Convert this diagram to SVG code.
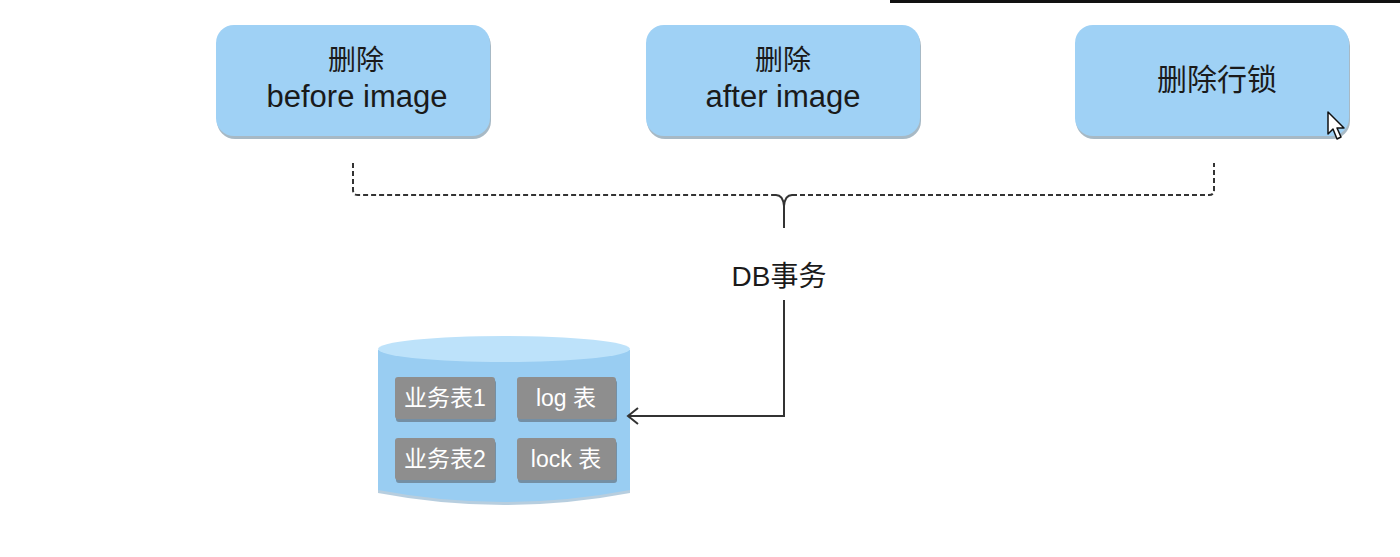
<svg xmlns="http://www.w3.org/2000/svg" width="1400" height="557" viewBox="0 0 1400 557">
<style>
.box{fill:#9fd1f5;}
.boxsh{fill:#5f7f96;opacity:0.55;}
.t{font-family:"Liberation Sans","Noto Sans CJK SC",sans-serif;fill:#1a1a1a;text-anchor:middle;}
.tb{font-family:"Liberation Sans","Noto Sans CJK SC",sans-serif;fill:#ffffff;text-anchor:middle;font-size:23px;}
.gray{fill:#8e8e8e;}
.graysh{fill:#5b6670;opacity:0.6;}
.dash{fill:none;stroke:#333;stroke-width:2;stroke-dasharray:5 3;}
.conn{fill:none;stroke:#333;stroke-width:2;}
</style>
<defs>
<marker id="arr" markerWidth="16" markerHeight="18" refX="13" refY="9" orient="auto" markerUnits="userSpaceOnUse">
<path d="M3,1 L13,9 L3,17" fill="none" stroke="#333" stroke-width="2"/>
</marker>
</defs>
<rect x="0" y="0" width="1400" height="557" fill="#ffffff"/>
<rect x="890" y="0" width="510" height="3" fill="#111"/>

<g id="node-before">
<rect class="boxsh" x="217" y="28" width="274" height="111" rx="18"/>
<rect class="box" x="216" y="25" width="274" height="111" rx="18"/>
<text class="t" x="356" y="70" font-size="28">删除</text>
<text class="t" x="357" y="107" font-size="31">before image</text>
</g>
<g id="node-after">
<rect class="boxsh" x="647" y="28" width="274" height="111" rx="18"/>
<rect class="box" x="646" y="25" width="274" height="111" rx="18"/>
<text class="t" x="783" y="70" font-size="28">删除</text>
<text class="t" x="783" y="107" font-size="31">after image</text>
</g>
<g id="node-lock">
<rect class="boxsh" x="1076" y="28" width="274" height="111" rx="18"/>
<rect class="box" x="1075" y="25" width="274" height="111" rx="18"/>
<text class="t" x="1217" y="90" font-size="30">删除行锁</text>
</g>

<g id="node-db">
<text class="t" x="779" y="286" font-size="28">DB事务</text>
</g>

<g id="node-cylinder">
<path d="M378,350 L378,490 Q504,514 630,490 L630,350 Z" fill="#6f9dbf" opacity="0.5" transform="translate(0,3)"/>
<path d="M378,350 L378,490 Q504,514 630,490 L630,350 Z" fill="#99cdf2"/>
<ellipse cx="504" cy="349" rx="126" ry="13" fill="#bde2fa"/>
<g id="tbl1">
<rect class="graysh" x="396" y="380" width="100" height="42" rx="3"/>
<rect class="gray" x="395" y="377" width="100" height="42" rx="3"/>
<text class="tb" x="445" y="406">业务表1</text>
</g>
<g id="tbl-log">
<rect class="graysh" x="518" y="380" width="99" height="42" rx="3"/>
<rect class="gray" x="517" y="377" width="99" height="42" rx="3"/>
<text class="tb" x="566" y="406">log 表</text>
</g>
<g id="tbl2">
<rect class="graysh" x="396" y="441" width="100" height="42" rx="3"/>
<rect class="gray" x="395" y="438" width="100" height="42" rx="3"/>
<text class="tb" x="445" y="467">业务表2</text>
</g>
<g id="tbl-lock">
<rect class="graysh" x="518" y="441" width="99" height="42" rx="3"/>
<rect class="gray" x="517" y="438" width="99" height="42" rx="3"/>
<text class="tb" x="566" y="467">lock 表</text>
</g>
</g>

<g id="connectors">
<path class="dash" d="M353,163 L353,190 Q353,195 358,195 L776,195"/>
<path class="dash" d="M792,195 L1209,195 Q1214,195 1214,190 L1214,163"/>
<path class="conn" d="M776,195 Q783,195 784,206 Q785,195 792,195"/>
<path class="conn" d="M784,206 L784,228"/>
<path class="conn" d="M784,300 L784,416 L628,416" marker-end="url(#arr)"/>
</g>

<g id="cursor">
<path d="M1328,112 L1328,134 L1333,129 L1337,139 L1341,137 L1337,128 L1344,128 Z" fill="#ffffff" stroke="#111" stroke-width="1.5" stroke-linejoin="round"/>
</g>
</svg>
